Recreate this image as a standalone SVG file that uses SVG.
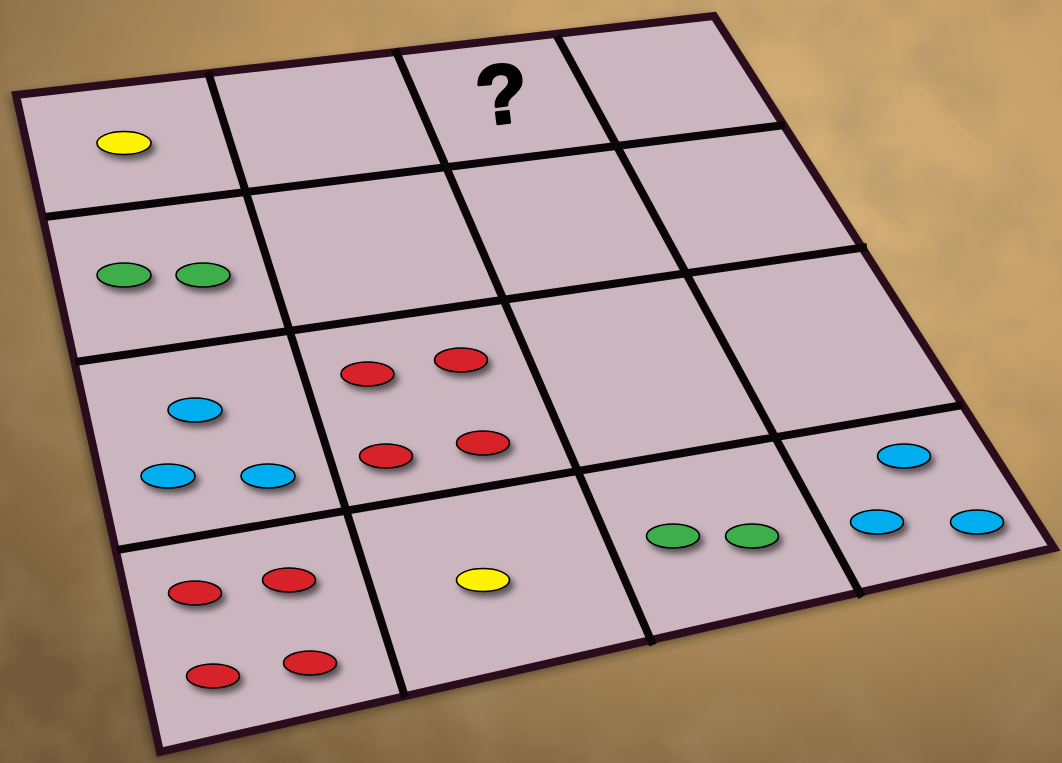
<svg xmlns="http://www.w3.org/2000/svg" width="1062" height="763" viewBox="0 0 1062 763">
  <defs>
    <radialGradient id="bg" cx="0.7" cy="0.25" r="0.9">
      <stop offset="0" stop-color="#d9b57c"/>
      <stop offset="0.5" stop-color="#bf9963"/>
      <stop offset="1" stop-color="#735a3a"/>
    </radialGradient>
    <filter id="tex" x="0" y="0" width="100%" height="100%">
      <feTurbulence type="fractalNoise" baseFrequency="0.012" numOctaves="4" seed="3" result="n"/>
      <feColorMatrix in="n" type="matrix" values="0 0 0 0 0.35  0 0 0 0 0.25  0 0 0 0 0.12  0 0 0 1.3 -0.5"/>
    </filter>
    <filter id="sh" x="-50%" y="-50%" width="200%" height="200%">
      <feDropShadow dx="4" dy="5" stdDeviation="3" flood-color="#000" flood-opacity="0.55"/>
    </filter>
    <filter id="bsh" x="-10%" y="-10%" width="120%" height="120%">
      <feDropShadow dx="-3" dy="4" stdDeviation="4" flood-color="#2a1a0a" flood-opacity="0.5"/>
    </filter>
  </defs>
  <style>
    .grid { stroke: #0a0608; stroke-width: 8; stroke-linecap: butt; fill: none; }
    .dot { stroke: #000; stroke-width: 1.6; filter: url(#sh); }
    .y { fill: #fff200; }
    .g { fill: #3cae4a; }
    .b { fill: #00aeef; }
    .r { fill: #d7222a; }
  </style>
  <rect width="1062" height="763" fill="url(#bg)"/>
  <rect width="1062" height="763" filter="url(#tex)" opacity="0.8"/>

  <g id="board">
    <polygon points="16,95 714,16 1054,548 160,752" fill="#cbb6c0" stroke="#2a0a1a" stroke-width="8" stroke-linejoin="miter" filter="url(#bsh)"/>
  </g>

  <g id="connectors">
    <line class="grid" x1="208" y1="72" x2="405" y2="697"/>
    <line class="grid" x1="395" y1="49" x2="653" y2="645"/>
    <line class="grid" x1="557" y1="36" x2="862" y2="597"/>
    <line class="grid" x1="45" y1="217" x2="785" y2="125"/>
    <line class="grid" x1="75" y1="362" x2="867" y2="247"/>
    <line class="grid" x1="117" y1="550" x2="963" y2="405"/>
  </g>

  <g id="question">
    <text x="502" y="123" transform="rotate(-7 502 95)" font-family="Liberation Sans, Arial, sans-serif" font-weight="bold" font-size="84" text-anchor="middle" fill="#000" stroke="#000" stroke-width="3" stroke-linejoin="round">?</text>
  </g>

  <g id="cell-r0c0"><ellipse class="dot y" cx="124" cy="143" rx="27" ry="11.5"/></g>
  <g id="cell-r1c0">
    <ellipse class="dot g" cx="124" cy="275" rx="27" ry="12"/>
    <ellipse class="dot g" cx="203" cy="275" rx="27" ry="12"/>
  </g>
  <g id="cell-r2c0">
    <ellipse class="dot b" cx="195" cy="410" rx="27" ry="12"/>
    <ellipse class="dot b" cx="168" cy="476" rx="27" ry="12"/>
    <ellipse class="dot b" cx="268" cy="476" rx="27" ry="12"/>
  </g>
  <g id="cell-r2c1">
    <ellipse class="dot r" cx="367.5" cy="374" rx="26.5" ry="12"/>
    <ellipse class="dot r" cx="461" cy="360" rx="26.5" ry="12"/>
    <ellipse class="dot r" cx="386" cy="456" rx="26.5" ry="12"/>
    <ellipse class="dot r" cx="483" cy="443" rx="26.5" ry="12"/>
  </g>
  <g id="cell-r3c0">
    <ellipse class="dot r" cx="195" cy="593" rx="26.5" ry="12"/>
    <ellipse class="dot r" cx="289" cy="580" rx="26.5" ry="12"/>
    <ellipse class="dot r" cx="213" cy="676" rx="26.5" ry="12"/>
    <ellipse class="dot r" cx="310" cy="663" rx="26.5" ry="12"/>
  </g>
  <g id="cell-r3c1"><ellipse class="dot y" cx="483" cy="580" rx="26.5" ry="11.5"/></g>
  <g id="cell-r3c2">
    <ellipse class="dot g" cx="673" cy="536" rx="26.5" ry="12"/>
    <ellipse class="dot g" cx="752" cy="536" rx="26.5" ry="12"/>
  </g>
  <g id="cell-r3c3">
    <ellipse class="dot b" cx="904" cy="456" rx="26.5" ry="12"/>
    <ellipse class="dot b" cx="877" cy="522" rx="26.5" ry="12"/>
    <ellipse class="dot b" cx="977" cy="522" rx="26.5" ry="12"/>
  </g>
</svg>
